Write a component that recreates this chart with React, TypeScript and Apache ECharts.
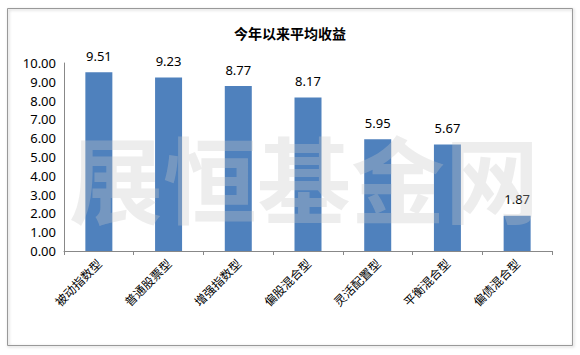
import React, { useEffect, useRef } from "react";
import * as echarts from "echarts";

const categories = ["被动指数型", "普通股票型", "增强指数型", "偏股混合型", "灵活配置型", "平衡混合型", "偏债混合型"];
const values = [9.51, 9.23, 8.77, 8.17, 5.95, 5.67, 1.87];
const title = "今年以来平均收益";
const watermark = "展恒基金网";

export default function App() {
  const ref = useRef<HTMLDivElement>(null);
  useEffect(() => {
    const chart = echarts.init(ref.current!, null, { renderer: "svg" });
    chart.setOption({
      animation: false,
      backgroundColor: "#ffffff",
      title: {
        text: title,
        left: "center",
        top: 21,
        textStyle: { fontFamily: "Noto Sans CJK SC", fontWeight: "bold", fontSize: 14, color: "#000" },
      },
      grid: { left: 64, right: 28, top: 63, bottom: 104 },
      xAxis: {
        type: "category",
        data: categories,
        axisLine: { lineStyle: { color: "#888", width: 1 } },
        axisTick: { show: true, lineStyle: { color: "#888" }, length: 4 },
        axisLabel: {
          rotate: 45,
          interval: 0,
          margin: 10,
          fontFamily: "Noto Sans CJK SC",
          fontSize: 12,
          color: "#000",
        },
      },
      yAxis: {
        type: "value",
        min: 0,
        max: 10,
        interval: 1,
        axisLine: { show: true, lineStyle: { color: "#888", width: 1 } },
        axisTick: { show: false },
        splitLine: { show: false },
        axisLabel: {
          formatter: (v: number) => v.toFixed(2),
          fontFamily: "Noto Sans",
          fontSize: 13,
          color: "#000",
          margin: 8,
        },
      },
      series: [
        {
          type: "bar",
          data: values,
          barWidth: 27,
          itemStyle: { color: "#4F81BD" },
          label: {
            show: true,
            position: "top",
            distance: 10,
            formatter: (p: any) => p.value.toFixed(2),
            fontFamily: "Noto Sans",
            fontSize: 13,
            color: "#000",
          },
        },
      ],
      graphic: [
        {
          type: "rect",
          shape: { x: 7.5, y: 8.5, width: 565, height: 337 },
          style: { fill: "none", stroke: "#999", lineWidth: 1, shadowColor: "rgba(0,0,0,0.25)", shadowBlur: 3, shadowOffsetX: 1, shadowOffsetY: 1 },
          silent: true,
          z: -10,
        },
        {
          type: "text",
          x: 304,
          y: 176,
          z: 100,
          silent: true,
          style: {
            text: watermark,
            fontFamily: "Noto Sans CJK SC",
            fontWeight: "bold",
            fontSize: 94,
            fill: "rgba(200,200,200,0.32)",
            align: "center",
            verticalAlign: "middle",
          },
        },
      ],
    });
    return () => chart.dispose();
  }, []);
  return <div ref={ref} style={{ width: 580, height: 355, position: "absolute", left: 0, top: 0 }} />;
}
